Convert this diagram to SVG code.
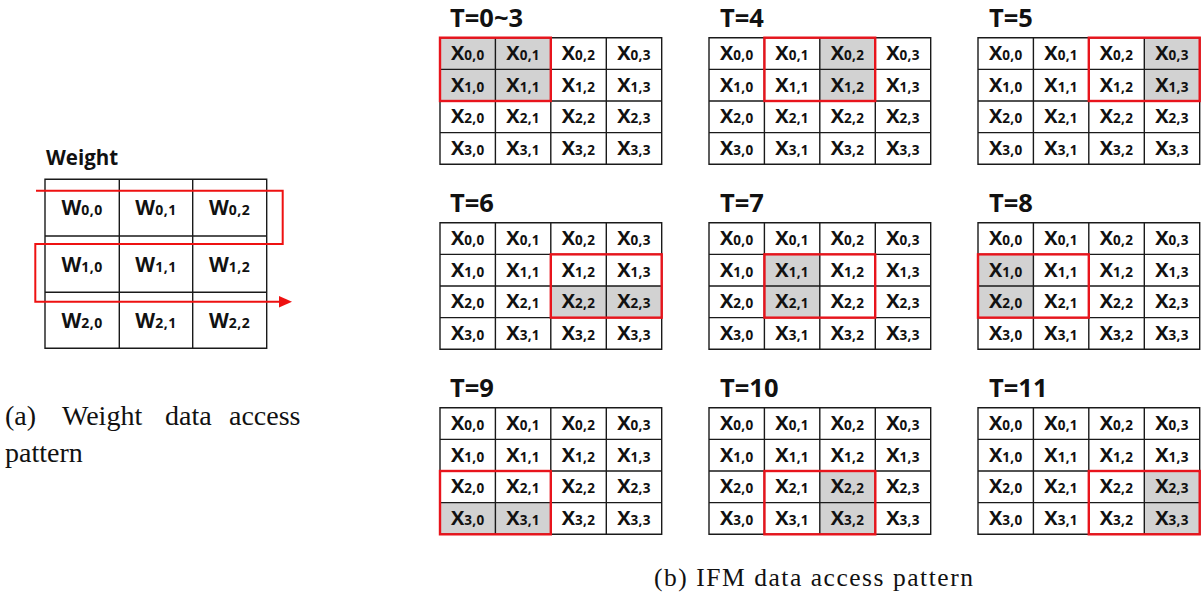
<svg xmlns="http://www.w3.org/2000/svg" width="1203" height="602" viewBox="0 0 1203 602">
<style>
.bg{fill:#fff}
.grid{fill:none;stroke:#1a1a1a;stroke-width:1.4}
.sh{fill:#d2d2d2}
.win{fill:none;stroke:#e8141c;stroke-width:2.4}
.x{font-family:"Open Sans","Noto Sans",sans-serif;font-weight:700;font-size:20px;fill:#111;text-anchor:middle}
.s{font-size:13.5px;letter-spacing:0.3px}
.w{font-family:"Open Sans","Noto Sans",sans-serif;font-weight:700;font-size:20.5px;fill:#111;text-anchor:middle}
.ws{font-size:14px;letter-spacing:0.5px}
.t{font-family:"Open Sans","Noto Sans",sans-serif;font-weight:700;font-size:25.5px;fill:#111}
.cap{font-family:"Liberation Serif","Times New Roman",serif;fill:#111}
.path{fill:none;stroke:#ee1111;stroke-width:2}
</style>
<defs>
<path id="g4" d="M0,0H221.7V126.6H0Z M55.4,0V126.6 M110.8,0V126.6 M166.3,0V126.6 M0,31.65H221.7 M0,63.3H221.7 M0,94.95H221.7"/>
</defs>
<rect class="bg" x="0" y="0" width="1203" height="602"/>

<!-- Weight -->
<g id="weight">
<text class="t" x="46" y="165" style="font-size:20.5px">Weight</text>
<path class="grid" d="M45,179.3H266.7V348.3H45Z M119.3,179.3V348.3 M192.7,179.3V348.3 M45,236H266.7 M45,292.3H266.7"/>
<text class="w" x="82.2" y="215">W<tspan class="ws">0,0</tspan></text>
<text class="w" x="156" y="215">W<tspan class="ws">0,1</tspan></text>
<text class="w" x="229.7" y="215">W<tspan class="ws">0,2</tspan></text>
<text class="w" x="82.2" y="271.5">W<tspan class="ws">1,0</tspan></text>
<text class="w" x="156" y="271.5">W<tspan class="ws">1,1</tspan></text>
<text class="w" x="229.7" y="271.5">W<tspan class="ws">1,2</tspan></text>
<text class="w" x="82.2" y="327.6">W<tspan class="ws">2,0</tspan></text>
<text class="w" x="156" y="327.6">W<tspan class="ws">2,1</tspan></text>
<text class="w" x="229.7" y="327.6">W<tspan class="ws">2,2</tspan></text>
</g>
<g id="connectors">
<path class="path" d="M36,190.7H282.7V244H35.3V301.7H281"/>
<polygon points="279,296 292,301.7 279,307.4" fill="#ee1111"/>
</g>

<!-- T=0~3 -->
<g id="t0">
<text class="t" x="450" y="27">T=0~3</text>
<g transform="translate(440,37.7)">
<rect class="sh" x="0" y="0" width="110.8" height="63.3"/>
<use href="#g4" class="grid"/>
<text class="x" x="27.7" y="22.3">X<tspan class="s">0,0</tspan></text><text class="x" x="83.1" y="22.3">X<tspan class="s">0,1</tspan></text><text class="x" x="138.5" y="22.3">X<tspan class="s">0,2</tspan></text><text class="x" x="193.9" y="22.3">X<tspan class="s">0,3</tspan></text>
<text class="x" x="27.7" y="54">X<tspan class="s">1,0</tspan></text><text class="x" x="83.1" y="54">X<tspan class="s">1,1</tspan></text><text class="x" x="138.5" y="54">X<tspan class="s">1,2</tspan></text><text class="x" x="193.9" y="54">X<tspan class="s">1,3</tspan></text>
<text class="x" x="27.7" y="85.6">X<tspan class="s">2,0</tspan></text><text class="x" x="83.1" y="85.6">X<tspan class="s">2,1</tspan></text><text class="x" x="138.5" y="85.6">X<tspan class="s">2,2</tspan></text><text class="x" x="193.9" y="85.6">X<tspan class="s">2,3</tspan></text>
<text class="x" x="27.7" y="117.3">X<tspan class="s">3,0</tspan></text><text class="x" x="83.1" y="117.3">X<tspan class="s">3,1</tspan></text><text class="x" x="138.5" y="117.3">X<tspan class="s">3,2</tspan></text><text class="x" x="193.9" y="117.3">X<tspan class="s">3,3</tspan></text>
<rect class="win" x="0" y="0" width="110.8" height="63.3"/>
</g>
</g>

<!-- T=4 -->
<g id="t4">
<text class="t" x="720" y="27">T=4</text>
<g transform="translate(709,37.7)">
<rect class="sh" x="110.8" y="0" width="55.4" height="63.3"/>
<use href="#g4" class="grid"/>
<text class="x" x="27.7" y="22.3">X<tspan class="s">0,0</tspan></text><text class="x" x="83.1" y="22.3">X<tspan class="s">0,1</tspan></text><text class="x" x="138.5" y="22.3">X<tspan class="s">0,2</tspan></text><text class="x" x="193.9" y="22.3">X<tspan class="s">0,3</tspan></text>
<text class="x" x="27.7" y="54">X<tspan class="s">1,0</tspan></text><text class="x" x="83.1" y="54">X<tspan class="s">1,1</tspan></text><text class="x" x="138.5" y="54">X<tspan class="s">1,2</tspan></text><text class="x" x="193.9" y="54">X<tspan class="s">1,3</tspan></text>
<text class="x" x="27.7" y="85.6">X<tspan class="s">2,0</tspan></text><text class="x" x="83.1" y="85.6">X<tspan class="s">2,1</tspan></text><text class="x" x="138.5" y="85.6">X<tspan class="s">2,2</tspan></text><text class="x" x="193.9" y="85.6">X<tspan class="s">2,3</tspan></text>
<text class="x" x="27.7" y="117.3">X<tspan class="s">3,0</tspan></text><text class="x" x="83.1" y="117.3">X<tspan class="s">3,1</tspan></text><text class="x" x="138.5" y="117.3">X<tspan class="s">3,2</tspan></text><text class="x" x="193.9" y="117.3">X<tspan class="s">3,3</tspan></text>
<rect class="win" x="55.4" y="0" width="110.8" height="63.3"/>
</g>
</g>

<!-- T=5 -->
<g id="t5">
<text class="t" x="989" y="27">T=5</text>
<g transform="translate(978,37.7)">
<rect class="sh" x="166.3" y="0" width="55.4" height="63.3"/>
<use href="#g4" class="grid"/>
<text class="x" x="27.7" y="22.3">X<tspan class="s">0,0</tspan></text><text class="x" x="83.1" y="22.3">X<tspan class="s">0,1</tspan></text><text class="x" x="138.5" y="22.3">X<tspan class="s">0,2</tspan></text><text class="x" x="193.9" y="22.3">X<tspan class="s">0,3</tspan></text>
<text class="x" x="27.7" y="54">X<tspan class="s">1,0</tspan></text><text class="x" x="83.1" y="54">X<tspan class="s">1,1</tspan></text><text class="x" x="138.5" y="54">X<tspan class="s">1,2</tspan></text><text class="x" x="193.9" y="54">X<tspan class="s">1,3</tspan></text>
<text class="x" x="27.7" y="85.6">X<tspan class="s">2,0</tspan></text><text class="x" x="83.1" y="85.6">X<tspan class="s">2,1</tspan></text><text class="x" x="138.5" y="85.6">X<tspan class="s">2,2</tspan></text><text class="x" x="193.9" y="85.6">X<tspan class="s">2,3</tspan></text>
<text class="x" x="27.7" y="117.3">X<tspan class="s">3,0</tspan></text><text class="x" x="83.1" y="117.3">X<tspan class="s">3,1</tspan></text><text class="x" x="138.5" y="117.3">X<tspan class="s">3,2</tspan></text><text class="x" x="193.9" y="117.3">X<tspan class="s">3,3</tspan></text>
<rect class="win" x="110.8" y="0" width="110.9" height="63.3"/>
</g>
</g>

<!-- T=6 -->
<g id="t6">
<text class="t" x="450" y="212">T=6</text>
<g transform="translate(440,222.7)">
<rect class="sh" x="110.8" y="63.3" width="110.9" height="31.65"/>
<use href="#g4" class="grid"/>
<text class="x" x="27.7" y="22.3">X<tspan class="s">0,0</tspan></text><text class="x" x="83.1" y="22.3">X<tspan class="s">0,1</tspan></text><text class="x" x="138.5" y="22.3">X<tspan class="s">0,2</tspan></text><text class="x" x="193.9" y="22.3">X<tspan class="s">0,3</tspan></text>
<text class="x" x="27.7" y="54">X<tspan class="s">1,0</tspan></text><text class="x" x="83.1" y="54">X<tspan class="s">1,1</tspan></text><text class="x" x="138.5" y="54">X<tspan class="s">1,2</tspan></text><text class="x" x="193.9" y="54">X<tspan class="s">1,3</tspan></text>
<text class="x" x="27.7" y="85.6">X<tspan class="s">2,0</tspan></text><text class="x" x="83.1" y="85.6">X<tspan class="s">2,1</tspan></text><text class="x" x="138.5" y="85.6">X<tspan class="s">2,2</tspan></text><text class="x" x="193.9" y="85.6">X<tspan class="s">2,3</tspan></text>
<text class="x" x="27.7" y="117.3">X<tspan class="s">3,0</tspan></text><text class="x" x="83.1" y="117.3">X<tspan class="s">3,1</tspan></text><text class="x" x="138.5" y="117.3">X<tspan class="s">3,2</tspan></text><text class="x" x="193.9" y="117.3">X<tspan class="s">3,3</tspan></text>
<rect class="win" x="110.8" y="31.65" width="110.9" height="63.3"/>
</g>
</g>

<!-- T=7 -->
<g id="t7">
<text class="t" x="720" y="212">T=7</text>
<g transform="translate(709,222.7)">
<rect class="sh" x="55.4" y="31.65" width="55.4" height="63.3"/>
<use href="#g4" class="grid"/>
<text class="x" x="27.7" y="22.3">X<tspan class="s">0,0</tspan></text><text class="x" x="83.1" y="22.3">X<tspan class="s">0,1</tspan></text><text class="x" x="138.5" y="22.3">X<tspan class="s">0,2</tspan></text><text class="x" x="193.9" y="22.3">X<tspan class="s">0,3</tspan></text>
<text class="x" x="27.7" y="54">X<tspan class="s">1,0</tspan></text><text class="x" x="83.1" y="54">X<tspan class="s">1,1</tspan></text><text class="x" x="138.5" y="54">X<tspan class="s">1,2</tspan></text><text class="x" x="193.9" y="54">X<tspan class="s">1,3</tspan></text>
<text class="x" x="27.7" y="85.6">X<tspan class="s">2,0</tspan></text><text class="x" x="83.1" y="85.6">X<tspan class="s">2,1</tspan></text><text class="x" x="138.5" y="85.6">X<tspan class="s">2,2</tspan></text><text class="x" x="193.9" y="85.6">X<tspan class="s">2,3</tspan></text>
<text class="x" x="27.7" y="117.3">X<tspan class="s">3,0</tspan></text><text class="x" x="83.1" y="117.3">X<tspan class="s">3,1</tspan></text><text class="x" x="138.5" y="117.3">X<tspan class="s">3,2</tspan></text><text class="x" x="193.9" y="117.3">X<tspan class="s">3,3</tspan></text>
<rect class="win" x="55.4" y="31.65" width="110.8" height="63.3"/>
</g>
</g>

<!-- T=8 -->
<g id="t8">
<text class="t" x="989" y="212">T=8</text>
<g transform="translate(978,222.7)">
<rect class="sh" x="0" y="31.65" width="55.4" height="63.3"/>
<use href="#g4" class="grid"/>
<text class="x" x="27.7" y="22.3">X<tspan class="s">0,0</tspan></text><text class="x" x="83.1" y="22.3">X<tspan class="s">0,1</tspan></text><text class="x" x="138.5" y="22.3">X<tspan class="s">0,2</tspan></text><text class="x" x="193.9" y="22.3">X<tspan class="s">0,3</tspan></text>
<text class="x" x="27.7" y="54">X<tspan class="s">1,0</tspan></text><text class="x" x="83.1" y="54">X<tspan class="s">1,1</tspan></text><text class="x" x="138.5" y="54">X<tspan class="s">1,2</tspan></text><text class="x" x="193.9" y="54">X<tspan class="s">1,3</tspan></text>
<text class="x" x="27.7" y="85.6">X<tspan class="s">2,0</tspan></text><text class="x" x="83.1" y="85.6">X<tspan class="s">2,1</tspan></text><text class="x" x="138.5" y="85.6">X<tspan class="s">2,2</tspan></text><text class="x" x="193.9" y="85.6">X<tspan class="s">2,3</tspan></text>
<text class="x" x="27.7" y="117.3">X<tspan class="s">3,0</tspan></text><text class="x" x="83.1" y="117.3">X<tspan class="s">3,1</tspan></text><text class="x" x="138.5" y="117.3">X<tspan class="s">3,2</tspan></text><text class="x" x="193.9" y="117.3">X<tspan class="s">3,3</tspan></text>
<rect class="win" x="0" y="31.65" width="110.8" height="63.3"/>
</g>
</g>

<!-- T=9 -->
<g id="t9">
<text class="t" x="450" y="397">T=9</text>
<g transform="translate(440,407.7)">
<rect class="sh" x="0" y="94.95" width="110.8" height="31.65"/>
<use href="#g4" class="grid"/>
<text class="x" x="27.7" y="22.3">X<tspan class="s">0,0</tspan></text><text class="x" x="83.1" y="22.3">X<tspan class="s">0,1</tspan></text><text class="x" x="138.5" y="22.3">X<tspan class="s">0,2</tspan></text><text class="x" x="193.9" y="22.3">X<tspan class="s">0,3</tspan></text>
<text class="x" x="27.7" y="54">X<tspan class="s">1,0</tspan></text><text class="x" x="83.1" y="54">X<tspan class="s">1,1</tspan></text><text class="x" x="138.5" y="54">X<tspan class="s">1,2</tspan></text><text class="x" x="193.9" y="54">X<tspan class="s">1,3</tspan></text>
<text class="x" x="27.7" y="85.6">X<tspan class="s">2,0</tspan></text><text class="x" x="83.1" y="85.6">X<tspan class="s">2,1</tspan></text><text class="x" x="138.5" y="85.6">X<tspan class="s">2,2</tspan></text><text class="x" x="193.9" y="85.6">X<tspan class="s">2,3</tspan></text>
<text class="x" x="27.7" y="117.3">X<tspan class="s">3,0</tspan></text><text class="x" x="83.1" y="117.3">X<tspan class="s">3,1</tspan></text><text class="x" x="138.5" y="117.3">X<tspan class="s">3,2</tspan></text><text class="x" x="193.9" y="117.3">X<tspan class="s">3,3</tspan></text>
<rect class="win" x="0" y="63.3" width="110.8" height="63.3"/>
</g>
</g>

<!-- T=10 -->
<g id="t10">
<text class="t" x="720" y="397">T=10</text>
<g transform="translate(709,407.7)">
<rect class="sh" x="110.8" y="63.3" width="55.5" height="63.3"/>
<use href="#g4" class="grid"/>
<text class="x" x="27.7" y="22.3">X<tspan class="s">0,0</tspan></text><text class="x" x="83.1" y="22.3">X<tspan class="s">0,1</tspan></text><text class="x" x="138.5" y="22.3">X<tspan class="s">0,2</tspan></text><text class="x" x="193.9" y="22.3">X<tspan class="s">0,3</tspan></text>
<text class="x" x="27.7" y="54">X<tspan class="s">1,0</tspan></text><text class="x" x="83.1" y="54">X<tspan class="s">1,1</tspan></text><text class="x" x="138.5" y="54">X<tspan class="s">1,2</tspan></text><text class="x" x="193.9" y="54">X<tspan class="s">1,3</tspan></text>
<text class="x" x="27.7" y="85.6">X<tspan class="s">2,0</tspan></text><text class="x" x="83.1" y="85.6">X<tspan class="s">2,1</tspan></text><text class="x" x="138.5" y="85.6">X<tspan class="s">2,2</tspan></text><text class="x" x="193.9" y="85.6">X<tspan class="s">2,3</tspan></text>
<text class="x" x="27.7" y="117.3">X<tspan class="s">3,0</tspan></text><text class="x" x="83.1" y="117.3">X<tspan class="s">3,1</tspan></text><text class="x" x="138.5" y="117.3">X<tspan class="s">3,2</tspan></text><text class="x" x="193.9" y="117.3">X<tspan class="s">3,3</tspan></text>
<rect class="win" x="55.4" y="63.3" width="110.9" height="63.3"/>
</g>
</g>

<!-- T=11 -->
<g id="t11">
<text class="t" x="989" y="397">T=11</text>
<g transform="translate(978,407.7)">
<rect class="sh" x="166.3" y="63.3" width="55.4" height="63.3"/>
<use href="#g4" class="grid"/>
<text class="x" x="27.7" y="22.3">X<tspan class="s">0,0</tspan></text><text class="x" x="83.1" y="22.3">X<tspan class="s">0,1</tspan></text><text class="x" x="138.5" y="22.3">X<tspan class="s">0,2</tspan></text><text class="x" x="193.9" y="22.3">X<tspan class="s">0,3</tspan></text>
<text class="x" x="27.7" y="54">X<tspan class="s">1,0</tspan></text><text class="x" x="83.1" y="54">X<tspan class="s">1,1</tspan></text><text class="x" x="138.5" y="54">X<tspan class="s">1,2</tspan></text><text class="x" x="193.9" y="54">X<tspan class="s">1,3</tspan></text>
<text class="x" x="27.7" y="85.6">X<tspan class="s">2,0</tspan></text><text class="x" x="83.1" y="85.6">X<tspan class="s">2,1</tspan></text><text class="x" x="138.5" y="85.6">X<tspan class="s">2,2</tspan></text><text class="x" x="193.9" y="85.6">X<tspan class="s">2,3</tspan></text>
<text class="x" x="27.7" y="117.3">X<tspan class="s">3,0</tspan></text><text class="x" x="83.1" y="117.3">X<tspan class="s">3,1</tspan></text><text class="x" x="138.5" y="117.3">X<tspan class="s">3,2</tspan></text><text class="x" x="193.9" y="117.3">X<tspan class="s">3,3</tspan></text>
<rect class="win" x="110.8" y="63.3" width="110.9" height="63.3"/>
</g>
</g>

<!-- captions -->
<g id="captions">
<text class="cap" style="font-size:28px" y="425"><tspan x="5">(a)</tspan><tspan x="62">Weight</tspan><tspan x="165">data</tspan><tspan x="229">access</tspan></text>
<text class="cap" style="font-size:28px" x="5" y="462">pattern</text>
<text class="cap" style="font-size:25.5px" x="654" y="586" textLength="319" lengthAdjust="spacing">(b) IFM data access pattern</text>
</g>
</svg>
